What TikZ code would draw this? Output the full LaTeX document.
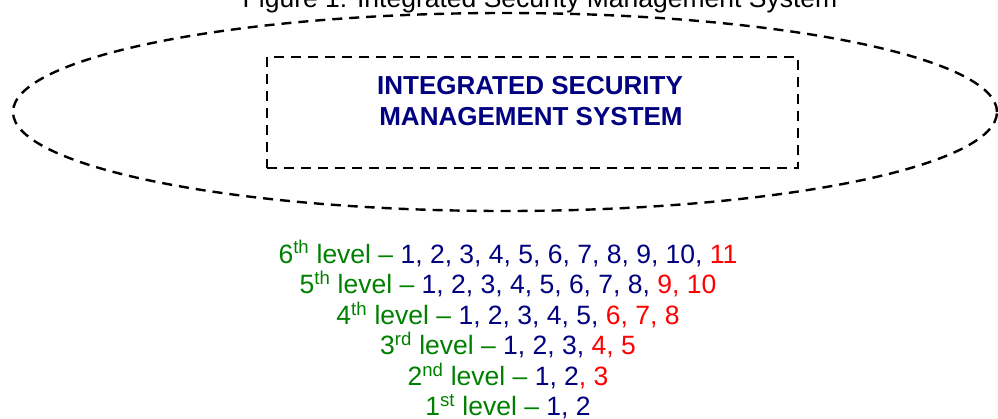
\documentclass[tikz,border=0pt]{standalone}
\usepackage{fontspec}
\setmainfont{Liberation Sans}
\usepackage{xcolor}
\usepackage{tikz}
\usetikzlibrary{shapes.geometric}
\definecolor{lvlgreen}{RGB}{0,128,0}
\definecolor{lvlnavy}{RGB}{0,0,128}
\definecolor{lvlred}{RGB}{255,0,0}
\tikzset{every picture/.style={x=1pt,y=-1pt},
  dashline/.style={draw=black, line width=2.4pt, dash pattern=on 10pt off 7pt},
  systext/.style={inner sep=0pt, anchor=base, text=lvlnavy, font=\fontsize{26}{31}\selectfont\bfseries},
  lvltext/.style={inner sep=0pt, anchor=base, text=lvlgreen, font=\fontsize{26.5}{30}\selectfont}}

\begin{document}
\begin{tikzpicture}
        \useasboundingbox (0,0) rectangle (998,418);

        \node[inner sep=0pt, anchor=base, font=\fontsize{26.5}{30}\selectfont] (title) at (540, 7) {Figure 1: Integrated Security Management System};

        \node[ellipse, dashline, minimum width=984pt, minimum height=198pt, inner sep=0pt] (outer) at (505, 112) {};
        \node[rectangle, dashline, minimum width=531pt, minimum height=111pt, inner sep=0pt] (ismsbox) at (532.5, 112.5) {};
        \node[systext] (sys1) at (530, 94) {INTEGRATED SECURITY};
        \node[systext] (sys2) at (531, 125) {MANAGEMENT SYSTEM};

        \node[lvltext] (l6) at (508, 263) {6\textsuperscript{th} level \textendash{} \textcolor{lvlnavy}{1, 2, 3, 4, 5, 6, 7, 8, 9, 10,} \textcolor{lvlred}{11}};
        \node[lvltext] (l5) at (508, 293.6) {5\textsuperscript{th} level \textendash{} \textcolor{lvlnavy}{1, 2, 3, 4, 5, 6, 7, 8,} \textcolor{lvlred}{9, 10}};
        \node[lvltext] (l4) at (508, 324.2) {4\textsuperscript{th} level \textendash{} \textcolor{lvlnavy}{1, 2, 3, 4, 5,} \textcolor{lvlred}{6, 7, 8}};
        \node[lvltext] (l3) at (508, 354.8) {3\textsuperscript{rd} level \textendash{} \textcolor{lvlnavy}{1, 2, 3,} \textcolor{lvlred}{4, 5}};
        \node[lvltext] (l2) at (508, 385.4) {2\textsuperscript{nd} level \textendash{} \textcolor{lvlnavy}{1, 2}\textcolor{lvlred}{, 3}};
        \node[lvltext] (l1) at (508, 415.5) {1\textsuperscript{st} level \textendash{} \textcolor{lvlnavy}{1, 2}};
      \end{tikzpicture}
\end{document}
